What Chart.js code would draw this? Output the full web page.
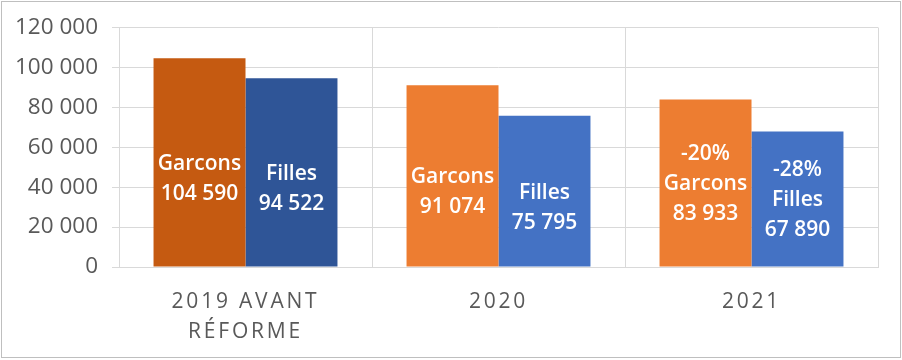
<!DOCTYPE html>
<html>
<head>
<meta charset="utf-8">
<script src="https://cdn.jsdelivr.net/npm/chart.js@4.4.1/dist/chart.umd.min.js"></script>
<style>
  html, body { margin: 0; padding: 0; background: #ffffff; }
  #wrap { position: relative; width: 902px; height: 360px; }
</style>
</head>
<body>
<div id="wrap"><canvas id="c" width="902" height="360"></canvas></div>
<script>
// ---- data ----
const categories = [["2019 AVANT", "RÉFORME"], "2020", "2021"];
const garconsValues = [104590, 91074, 83933];
const fillesValues = [94522, 75795, 67890];
const garconsChange = ["", "", "-20%"];
const fillesChange = ["", "", "-28%"];
const garconsColors = ["#C55A11", "#ED7D31", "#ED7D31"];
const fillesColors = ["#2F5597", "#4472C4", "#4472C4"];
const yTicks = [0, 20000, 40000, 60000, 80000, 100000, 120000];

function fmt(v) {
  return String(v).replace(/\B(?=(\d{3})+(?!\d))/g, " ");
}

const FONT = "'Open Sans', 'DejaVu Sans', sans-serif";
const GRID = "#D9D9D9";
const TEXT = "#595959";

const LEFT = 119, RIGHT_PAD = 24, TOP_PAD = 26, BOTTOM = 267;

const borderPlugin = {
  id: 'frame',
  beforeDraw(chart) {
    const ctx = chart.ctx;
    ctx.save();
    ctx.fillStyle = '#fff';
    ctx.fillRect(0, 0, chart.width, chart.height);
    ctx.strokeStyle = '#BFBFBF';
    ctx.lineWidth = 1;
    ctx.strokeRect(1.5, 1.5, 899, 356);
    ctx.restore();
  }
};

const spacingPlugin = {
  id: 'xspacing',
  afterUpdate(chart) {
    const sc = chart.scales.x;
    if (sc && !sc._patched) {
      const orig = sc.drawLabels;
      sc.drawLabels = function (area) {
        const ctx = this.ctx;
        ctx.save();
        ctx.letterSpacing = '2.8px';
        orig.call(this, area);
        ctx.restore();
      };
      sc._patched = true;
    }
  }
};

const labelPlugin = {
  id: 'barLabels',
  afterDatasetsDraw(chart) {
    const ctx = chart.ctx;
    ctx.save();
    ctx.fillStyle = '#FFFFFF';
    ctx.font = "600 21px " + FONT;
    ctx.textAlign = 'center';
    ctx.textBaseline = 'middle';
    chart.data.datasets.forEach((ds, di) => {
      const meta = chart.getDatasetMeta(di);
      meta.data.forEach((bar, i) => {
        const lines = [ds.changes[i], ds.label, fmt(ds.data[i])];
        const cy = (bar.y + bar.base) / 2 + 1.5;
        lines.forEach((t, k) => {
          if (t) ctx.fillText(t, bar.x, cy + (k - 1) * 30);
        });
      });
    });
    ctx.restore();
  }
};

new Chart(document.getElementById('c'), {
  type: 'bar',
  data: {
    labels: categories,
    datasets: [
      { label: 'Garcons', data: garconsValues, backgroundColor: garconsColors, changes: garconsChange,
        categoryPercentage: 0.727, barPercentage: 1.0, borderWidth: 0 },
      { label: 'Filles', data: fillesValues, backgroundColor: fillesColors, changes: fillesChange,
        categoryPercentage: 0.727, barPercentage: 1.0, borderWidth: 0 }
    ]
  },
  options: {
    responsive: false,
    animation: false,
    devicePixelRatio: 1,
    layout: { padding: { left: 0, right: RIGHT_PAD, top: TOP_PAD, bottom: 0 } },
    plugins: { legend: { display: false }, tooltip: { enabled: false } },
    scales: {
      x: {
        grid: { color: GRID, lineWidth: 1, drawTicks: false, offset: true },
        border: { color: GRID },
        ticks: { color: TEXT, font: { family: FONT, size: 21, lineHeight: 1.43 }, padding: 20, maxRotation: 0, autoSkip: false },
        afterFit(s) { s.height = 360 - BOTTOM; }
      },
      y: {
        min: 0, max: 120000,
        afterBuildTicks(s) { s.ticks = yTicks.map(v => ({ value: v })); },
        grid: { color: GRID, lineWidth: 1, tickLength: 7 },
        border: { display: false },
        ticks: { color: TEXT, font: { family: FONT, size: 22.5 }, padding: 14, callback: v => fmt(v) },
        afterFit(s) { s.width = LEFT; }
      }
    }
  },
  plugins: [borderPlugin, spacingPlugin, labelPlugin]
});
</script>
</body>
</html>
